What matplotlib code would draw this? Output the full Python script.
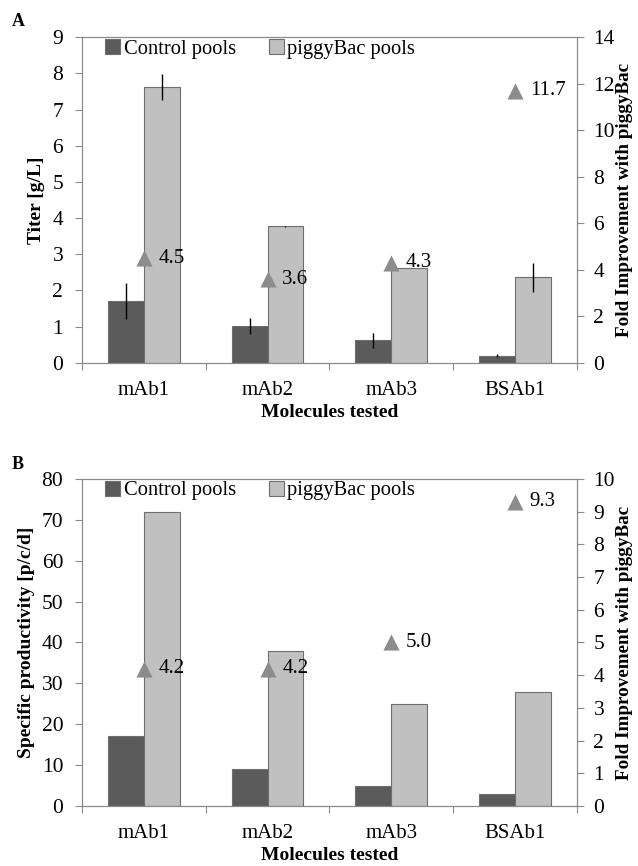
import numpy as np
import matplotlib.pyplot as plt

plt.rcParams['font.family'] = ['Liberation Serif', 'DejaVu Serif']

molecules = ['mAb1', 'mAb2', 'mAb3', 'BSAb1']

# panel A - titer
titer_ctrl = [1.7, 1.02, 0.62, 0.2]
titer_ctrl_err = [0.5, 0.22, 0.21, 0.05]
titer_pb = [7.62, 3.77, 2.62, 2.36]
titer_pb_err = [0.36, 0.02, 0.0, 0.4]
titer_fold = [4.5, 3.6, 4.3, 11.7]

# panel B - specific productivity
qp_ctrl = [17, 9, 5, 3]
qp_pb = [72, 38, 25, 28]
qp_fold = [4.2, 4.2, 5.0, 9.3]

dark = '#5b5b5b'
light = '#c0c0c0'
edge = '#6e6e6e'
tri = '#8c8c8c'
spine = '#8a8a8a'

fig = plt.figure(figsize=(6.38, 8.66), dpi=100)


def panel(rect, ctrl, pb, fold, ymax, ystep, y2max, y2step, ylabel,
          ctrl_err=None, pb_err=None):
    ax = fig.add_axes(rect)
    x = np.arange(len(molecules))
    w = 0.29
    ax.bar(x - w/2, ctrl, w, color=dark, edgecolor=edge, linewidth=0.8,
           label='Control pools', zorder=2)
    ax.bar(x + w/2, pb, w, color=light, edgecolor=edge, linewidth=0.8,
           label='piggyBac pools', zorder=2)
    if ctrl_err is not None:
        ax.errorbar(x - w/2, ctrl, yerr=ctrl_err, fmt='none', ecolor='black',
                    elinewidth=1, capsize=0, zorder=3)
        ax.errorbar(x + w/2, pb, yerr=pb_err, fmt='none', ecolor='black',
                    elinewidth=1, capsize=0, zorder=3)
    ax.set_xlim(-0.5, len(molecules) - 0.5)
    ax.set_ylim(0, ymax)
    ax.set_yticks(np.arange(0, ymax + ystep/2, ystep))
    ax.set_xticks(np.arange(-0.5, len(molecules)))
    ax.set_xticklabels([])
    ax.set_xticks(x, minor=True)
    ax.set_xticklabels(molecules, minor=True, fontsize=15)
    ax.tick_params(axis='x', which='minor', length=0, pad=13)
    ax.tick_params(axis='x', which='major', length=5, direction='out',
                   color=spine)
    ax.tick_params(axis='y', labelsize=15.5, length=5, color=spine, pad=8.5)
    for s in ax.spines.values():
        s.set_color(spine)
    ax.set_ylabel(ylabel, fontsize=14, fontweight='bold', labelpad=5)
    ax.set_xlabel('Molecules tested', fontsize=14, fontweight='bold',
                  labelpad=3)
    ax.legend(loc='upper left', ncol=2, frameon=False, fontsize=14.8,
              handlelength=0.75, handleheight=0.75, handletextpad=0.15,
              columnspacing=1.6, borderaxespad=0.0,
              bbox_to_anchor=(0.03, 1.02))

    ax2 = ax.twinx()
    ax2.scatter(x, fold, marker='^', s=135, color=tri, zorder=4,
                linewidths=0)
    for xi, f in zip(x, fold):
        ax2.text(xi + 0.12, f, '%.1f' % f, fontsize=15, va='center',
                 ha='left')
    ax2.set_ylim(0, y2max)
    ax2.set_yticks(np.arange(0, y2max + y2step/2, y2step))
    ax2.tick_params(axis='y', labelsize=15.5, length=5, color=spine, pad=7)
    for s in ax2.spines.values():
        s.set_color(spine)
    ax2.set_ylabel('Fold Improvement with piggyBac', fontsize=13.8,
                   fontweight='bold', labelpad=1)
    return ax


panel([0.1285, 0.581, 0.7755, 0.376], titer_ctrl, titer_pb, titer_fold,
      9, 1, 14, 2, 'Titer [g/L]', titer_ctrl_err, titer_pb_err)
panel([0.1285, 0.0693, 0.7755, 0.3777], qp_ctrl, qp_pb, qp_fold,
      80, 10, 10, 1, 'Specific productivity [p/c/d]')

fig.text(0.018, 0.975, 'A', fontsize=13, fontweight='bold', va='center')
fig.text(0.018, 0.464, 'B', fontsize=13, fontweight='bold', va='center')

fig.savefig('out.png', dpi=100)
